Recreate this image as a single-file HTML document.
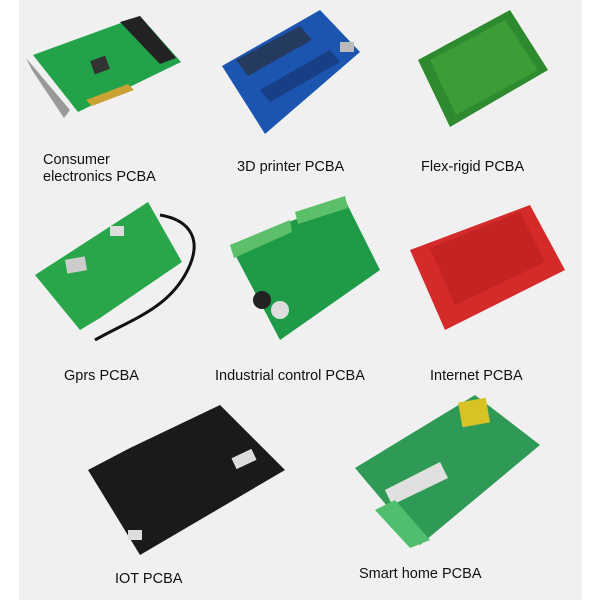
<!DOCTYPE html>
<html><head><style>
html,body{margin:0;padding:0;background:#fff;}
.wrap{position:relative;width:600px;height:600px;overflow:hidden;background:#fff;}
.bg{position:absolute;left:19px;top:0;width:563px;height:600px;background:#f0f0f0;}
.t{position:absolute;font-family:"Liberation Sans",Arial,sans-serif;font-size:14.5px;color:#111;line-height:17px;white-space:nowrap;}
svg{position:absolute;left:0;top:0;}
</style></head><body><div class="wrap">
<div class="bg"></div>
<svg width="600" height="600">
<!-- 1 consumer -->
<polygon points="26,58 32,70 64,118 70,110" fill="#999"/>
<polygon points="33,55 140,16 181,62 78,112" fill="#22a34a"/>
<polygon points="120,22 140,16 176,58 160,64" fill="#222"/>
<rect x="92" y="58" width="16" height="14" fill="#333" transform="rotate(-20 100 65)"/>
<polygon points="86,100 128,84 134,90 92,106" fill="#c9a233"/>
<!-- 2 3d printer -->
<polygon points="222,66 320,10 360,52 265,134" fill="#1c55b0"/>
<polygon points="236,60 300,26 312,40 248,76" fill="#2a2a2a" opacity=".6"/>
<polygon points="260,90 330,50 340,62 270,102" fill="#163f85"/>
<rect x="340" y="42" width="14" height="10" fill="#bbb"/>
<!-- 3 flex -->
<polygon points="418,60 510,10 548,70 450,127" fill="#2e8a2e"/>
<polygon points="430,60 505,20 538,70 456,115" fill="#3c9c35"/>
<!-- 4 gprs -->
<polygon points="35,275 148,202 182,262 100,318 80,330" fill="#2aa64a"/>
<rect x="66" y="258" width="20" height="14" fill="#ccc" transform="rotate(-10 76 265)"/>
<rect x="110" y="226" width="14" height="10" fill="#ddd"/>
<path d="M160,215 C190,220 205,240 185,275 C165,310 130,320 95,340" stroke="#111" stroke-width="3" fill="none"/>
<!-- 5 industrial -->
<polygon points="230,245 345,200 380,270 280,340" fill="#1f9a47"/>
<polygon points="230,245 290,220 292,232 234,258" fill="#5cc06a"/>
<polygon points="295,212 345,196 348,208 298,224" fill="#5cc06a"/>
<circle cx="262" cy="300" r="9" fill="#222"/><circle cx="280" cy="310" r="9" fill="#ddd"/>
<!-- 6 internet -->
<polygon points="410,250 530,205 565,270 445,330" fill="#d42a2a"/>
<polygon points="430,248 520,212 545,262 455,305" fill="#b82020" opacity=".6"/>
<!-- 7 IOT -->
<polygon points="88,470 130,448 220,405 285,470 140,555" fill="#1a1a1a"/>
<rect x="233" y="453" width="22" height="12" fill="#ddd" transform="rotate(-25 244 459)"/>
<rect x="128" y="530" width="14" height="10" fill="#ddd"/>
<!-- 8 smart home -->
<polygon points="355,468 475,395 540,445 420,545" fill="#2f9a55"/>
<rect x="460" y="400" width="28" height="25" fill="#d9c223" transform="rotate(-10 474 412)"/>
<polygon points="385,490 440,462 448,478 392,505" fill="#e0e0e0"/>
<polygon points="375,510 395,500 430,540 410,548" fill="#4fbf6f"/>
</svg>
<div class="t" style="left:43px;top:152px;">Consumer<br>electronics PCBA</div>
<div class="t" style="left:237px;top:159px;">3D printer PCBA</div>
<div class="t" style="left:421px;top:159px;">Flex-rigid PCBA</div>
<div class="t" style="left:64px;top:368px;">Gprs PCBA</div>
<div class="t" style="left:215px;top:368px;">Industrial control PCBA</div>
<div class="t" style="left:430px;top:368px;">Internet PCBA</div>
<div class="t" style="left:115px;top:571px;">IOT PCBA</div>
<div class="t" style="left:359px;top:566px;">Smart home PCBA</div>
</div></body></html>
